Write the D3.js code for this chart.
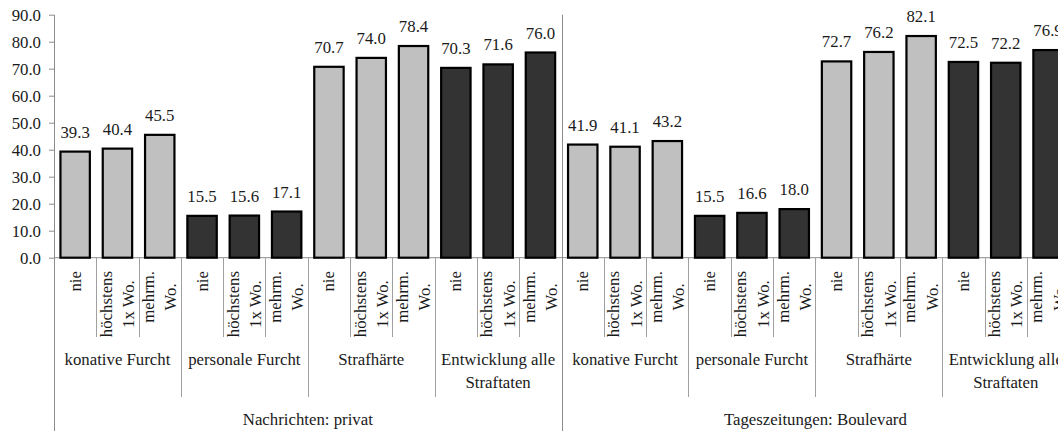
<!DOCTYPE html>
<html lang="de">
<head>
  <meta charset="UTF-8" />
  <title>Furcht und Straflust nach Mediennutzung</title>
  <script src="https://d3js.org/d3.v7.min.js"></script>
  <style>
    body {
      margin: 0;
      background: white;
    }
    svg {
      display: block;
    }
    svg text {
      font-family: "Liberation Serif", "Times New Roman", Tinos, "DejaVu Serif", serif;
    }
    .axis path,
    .axis line {
      stroke: #8c8c8c;
      stroke-width: 1px;
    }
    .axis text {
      font-size: 16.8px;
      fill: #1a1a1a;
    }
    .sep {
      stroke: #a0a0a0;
      stroke-width: 1px;
    }
    .lbl {
      font-size: 16.8px;
      fill: #1a1a1a;
    }
  </style>
</head>
<body>
  <svg width="1058" height="431"></svg>

  <script>
    // data
    const sources = ["Nachrichten: privat", "Tageszeitungen: Boulevard"];
    const groups = [["konative Furcht"], ["personale Furcht"], ["Strafhärte"], ["Entwicklung alle", "Straftaten"]];
    const freqLabels = [["nie"], ["höchstens", "1x Wo."], ["mehrm.", "Wo."]];
    const valuesPrivat = [39.3, 40.4, 45.5, 15.5, 15.6, 17.1, 70.7, 74.0, 78.4, 70.3, 71.6, 76.0];
    const valuesBoulevard = [41.9, 41.1, 43.2, 15.5, 16.6, 18.0, 72.7, 76.2, 82.1, 72.5, 72.2, 76.9];
    const yTicks = [0, 10, 20, 30, 40, 50, 60, 70, 80, 90];

    const allValues = [valuesPrivat, valuesBoulevard];
    const data = [];
    sources.forEach((s, si) => {
      groups.forEach((g, gi) => {
        freqLabels.forEach((f, fi) => {
          data.push({
            key: `${si}-${gi}-${fi}`,
            source: si, group: gi, freq: fi,
            value: allValues[si][gi * 3 + fi]
          });
        });
      });
    });

    const svg = d3.select("svg");
    const axisX = 54, slotW = 42.3;
    const baseY = 257.7, topY = 14.7;

    const x = d3.scaleBand()
      .domain(data.map(d => d.key))
      .range([axisX, axisX + data.length * slotW])
      .padding(0);

    const y = d3.scaleLinear()
      .domain([0, 90])
      .range([baseY, topY]);

    const barW = x.bandwidth() * 0.695;
    const cx = d => x(d.key) + x.bandwidth() / 2;

    // y axis
    svg.append("g")
      .attr("class", "axis")
      .attr("transform", `translate(${axisX},0)`)
      .call(d3.axisLeft(y).tickValues(yTicks).tickFormat(d3.format(".1f")).tickSize(5).tickSizeOuter(0).tickPadding(8))
      .call(g => g.select(".domain").remove())
      .call(g => g.selectAll("text").attr("font-family", null));

    // baseline
    svg.append("line")
      .attr("class", "sep")
      .attr("x1", axisX).attr("x2", x.range()[1])
      .attr("y1", baseY).attr("y2", baseY)
      .style("stroke", "#8c8c8c");

    // vertical axis line and separator between the two sources (full height)
    sources.forEach((s, si) => {
      const xx = Math.round(x(`${si}-0-0`)) + 0.5;
      svg.append("line")
        .attr("class", "sep")
        .attr("x1", xx).attr("x2", xx)
        .attr("y1", topY).attr("y2", 431)
        .style("stroke", "#8c8c8c");
    });

    // separators under the axis
    data.forEach(d => {
      if (d.freq === 0 && d.group === 0) return;
      const xx = Math.round(x(d.key)) + 0.5;
      svg.append("line")
        .attr("class", "sep")
        .attr("x1", xx).attr("x2", xx)
        .attr("y1", baseY).attr("y2", d.freq === 0 ? 397 : 337);
    });

    // bars
    svg.selectAll(".bar")
      .data(data)
      .enter()
      .append("rect")
      .attr("class", "bar")
      .attr("x", d => cx(d) - barW / 2)
      .attr("width", barW)
      .attr("y", d => y(d.value))
      .attr("height", d => y(0) - y(d.value))
      .attr("fill", d => d.group % 2 === 0 ? "#c0c0c0" : "#333333")
      .attr("stroke", "#000")
      .attr("stroke-width", 2.2);

    // value labels
    svg.selectAll(".val")
      .data(data)
      .enter()
      .append("text")
      .attr("class", "lbl")
      .attr("x", cx)
      .attr("y", d => y(d.value) - 14)
      .attr("text-anchor", "middle")
      .text(d => d.value.toFixed(1));

    // rotated frequency labels
    const lineGap = 22.4, labelTop = 271;
    data.forEach(d => {
      const lines = freqLabels[d.freq];
      const g = svg.append("g")
        .attr("transform", `translate(${cx(d)},${labelTop}) rotate(-90)`);
      const texts = lines.map((t, i) => g.append("text")
        .attr("class", "lbl")
        .attr("text-anchor", "middle")
        .attr("y", 5.5 + (i - (lines.length - 1) / 2) * lineGap)
        .text(t));
      const maxLen = d3.max(texts, t => t.node().getComputedTextLength());
      texts.forEach(t => t.attr("x", -maxLen / 2));
    });

    // group labels
    sources.forEach((s, si) => {
      groups.forEach((g, gi) => {
        const x0 = x(`${si}-${gi}-0`);
        const gx = x0 + 1.5 * slotW;
        g.forEach((line, li) => {
          svg.append("text")
            .attr("class", "lbl")
            .attr("x", gx)
            .attr("y", 365 + li * 23)
            .attr("text-anchor", "middle")
            .text(line);
        });
      });
      const sx = x(`${si}-0-0`) + 6 * slotW;
      svg.append("text")
        .attr("class", "lbl")
        .attr("x", sx)
        .attr("y", 425)
        .attr("text-anchor", "middle")
        .text(s);
    });
  </script>
</body>
</html>
